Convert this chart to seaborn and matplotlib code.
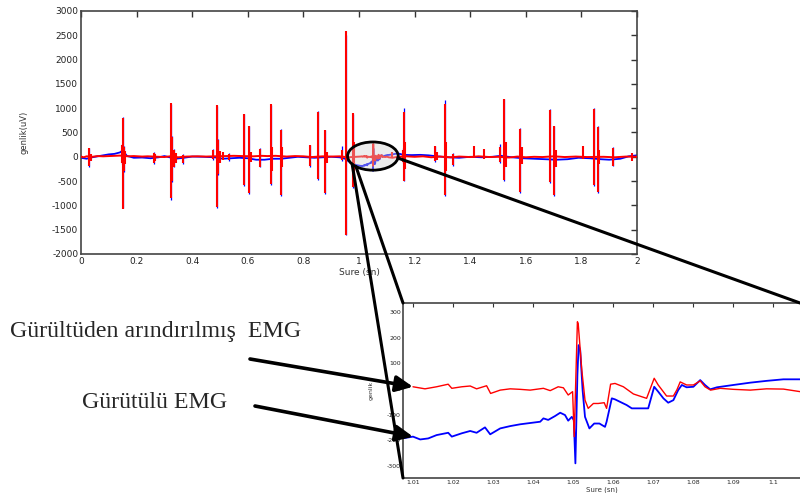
import matplotlib
matplotlib.use("Agg")
import matplotlib.pyplot as plt
from matplotlib.patches import Ellipse, ConnectionPatch
import numpy as np
import pandas as pd
import seaborn as sns

# ---------------- full record (0-2 s), amplitude in uV ----------------
# slow baseline between bursts
red_base_t = [0.000, 0.010, 0.020, 0.040, 0.060, 0.080, 0.100, 0.120, 0.140, 0.170,
              0.190, 0.220, 0.240, 0.280, 0.300, 0.320, 0.350, 0.380, 0.420, 0.450,
              0.480, 0.520, 0.550, 0.580, 0.620, 0.650, 0.670, 0.700, 0.740, 0.770,
              0.800, 0.830, 0.870, 0.900, 0.930, 0.960, 0.990, 1.005,
              1.120, 1.140, 1.170, 1.200, 1.230, 1.260, 1.290, 1.330, 1.360, 1.400,
              1.430, 1.470, 1.500, 1.540, 1.570, 1.600, 1.630, 1.660, 1.700, 1.740,
              1.780, 1.820, 1.880, 1.920, 1.960, 2.000]
red_base_v = [5, -10, 10, 0, 15, 10, 15, 20, 25, 10,
              15, 5, 10, 0, -5, 10, -10, 5, 10, 5,
              10, 15, 20, 15, 10, 20, 15, 20, 5, 15,
              10, -5, 10, 5, 10, -10, 0, 5,
              -20, 0, 10, 0, 10, -10, 5, -10, 5, -5,
              10, -5, 0, -15, 5, -10, 0, -5, 10, -5,
              5, -5, 0, -10, 5, 0]

blue_base_t = [0.000, 0.020, 0.040, 0.060, 0.080, 0.100, 0.120, 0.140, 0.150, 0.165,
               0.190, 0.220, 0.250, 0.280, 0.300, 0.340, 0.370, 0.400, 0.440, 0.480,
               0.510, 0.540, 0.570, 0.600, 0.630, 0.660, 0.690, 0.720, 0.750, 0.780,
               0.810, 0.840, 0.870, 0.900, 0.930, 0.950, 0.970, 0.990, 1.005,
               1.120, 1.140, 1.160, 1.190, 1.220, 1.250, 1.280, 1.320, 1.360, 1.400,
               1.440, 1.480, 1.510, 1.550, 1.590, 1.630, 1.670, 1.710, 1.750, 1.790,
               1.830, 1.870, 1.900, 1.940, 1.970, 2.000]
blue_base_v = [-20, -40, -10, 10, 30, 50, 60, 90, 130, 20,
               -20, -15, -30, -10, 15, -40, -20, 5, 0, -10,
               -40, -30, -20, -30, -60, -60, -40, -40, -20, 0,
               -10, -20, -10, 0, -10, -40, -120, -170, -185,
               50, 70, 40, 35, 40, 30, 10, -10, -20, 0,
               -10, 0, 20, -10, -30, -40, -50, -60, -50, -20,
               -30, -50, -60, -40, 10, 30]

# motor-unit bursts: time, positive peak, negative peak
red_spike_t = [0.030, 0.035, 0.148, 0.152, 0.156, 0.160, 0.262, 0.266, 0.322, 0.326,
               0.335, 0.342, 0.367, 0.474, 0.490, 0.494, 0.500, 0.512, 0.533, 0.588,
               0.605, 0.612, 0.644, 0.682, 0.688, 0.719, 0.724, 0.824, 0.851, 0.878,
               0.884, 0.940, 0.955, 0.977, 0.981, 1.117, 1.157, 1.161, 1.166, 1.273,
               1.280, 1.309, 1.313, 1.339, 1.415, 1.448, 1.507, 1.523, 1.528, 1.580,
               1.585, 1.687, 1.703, 1.709, 1.807, 1.845, 1.859, 1.864, 1.913, 1.982]
red_spike_hi = [175, 60, 250, 790, 200, 120, 80, 60, 1100, 400,
                150, 80, 40, 150, 1060, 350, 120, 100, 60, 890,
                630, 100, 170, 1080, 200, 560, 200, 240, 925, 550,
                100, 150, 2580, 900, 300, 100, 150, 925, 300, 220,
                100, 1095, 300, 60, 220, 160, 200, 1180, 300, 580,
                200, 970, 630, 150, 220, 990, 615, 150, 190, 80]
red_spike_lo = [-190, -80, -120, -1080, -300, -150, -130, -90, -855, -500,
                -200, -130, -130, -40, -1040, -350, -120, -60, -70, -580,
                -750, -100, -200, -550, -300, -790, -200, -190, -465, -740,
                -120, -70, -1610, -615, -400, -30, -100, -490, -250, -80,
                -60, -785, -300, -170, -30, -40, -100, -480, -200, -720,
                -150, -510, -785, -200, -40, -580, -720, -150, -180, -80]

blue_spike_t = [0.030, 0.148, 0.152, 0.156, 0.262, 0.322, 0.326, 0.335, 0.367, 0.474,
                0.490, 0.494, 0.533, 0.588, 0.605, 0.644, 0.682, 0.719, 0.824, 0.851,
                0.878, 0.940, 0.955, 0.977, 1.157, 1.161, 1.273, 1.309, 1.339, 1.507,
                1.523, 1.580, 1.687, 1.703, 1.845, 1.859, 1.913]
blue_spike_hi = [190, 270, 810, 230, 100, 1080, 420, 170, 50, 160,
                 1050, 370, 80, 880, 640, 190, 1070, 570, 250, 945,
                 560, 220, 2500, 890, 180, 1010, 230, 1165, 70, 260,
                 1190, 590, 980, 640, 1000, 630, 200]
blue_spike_lo = [-200, -140, -1050, -320, -140, -880, -520, -210, -150, -60,
                 -1060, -370, -90, -600, -770, -220, -570, -810, -210, -480,
                 -760, -90, -1600, -640, -120, -500, -100, -800, -190, -120,
                 -500, -740, -530, -800, -600, -740, -190]

# ---------------- detail window 1.0075-1.107 s ----------------
zoom_red_t = [1.0100, 1.0130, 1.0159, 1.0188, 1.0197, 1.0222, 1.0243, 1.0259, 1.0284, 1.0294,
              1.0318, 1.0343, 1.0368, 1.0393, 1.0426, 1.0443, 1.0463, 1.0476, 1.0488, 1.0499,
              1.0503, 1.0511, 1.0513, 1.0522, 1.0530, 1.0538, 1.0551, 1.0563, 1.0578, 1.0584,
              1.0594, 1.0605, 1.0626, 1.0651, 1.0684, 1.0703, 1.0713, 1.0734, 1.0751, 1.0760,
              1.0768, 1.0784, 1.0801, 1.0818, 1.0830, 1.0844, 1.0868, 1.0901, 1.0943, 1.0984,
              1.1026, 1.1068]
zoom_red_v = [9, 1, 9, 19, 3, 9, 12, 1, 13, -17,
              -4, 1, -1, -4, 3, -6, 9, 5, -23, -10,
              -185, 262, 255, 74, -43, -75, -56, -56, -53, -75,
              19, 22, 9, -19, -36, 42, 16, -27, -27, -2,
              28, 16, 16, 32, 9, -4, 3, -1, -4, 1,
              0, -10]

zoom_blue_t = [1.0073, 1.0100, 1.0118, 1.0138, 1.0159, 1.0188, 1.0197, 1.0222, 1.0243, 1.0259,
               1.0280, 1.0293, 1.0318, 1.0343, 1.0368, 1.0418, 1.0426, 1.0438, 1.0455, 1.0468,
               1.0480, 1.0488, 1.0497, 1.0502, 1.0506, 1.0511, 1.0514, 1.0518, 1.0524, 1.0530,
               1.0541, 1.0553, 1.0566, 1.0580, 1.0584, 1.0597, 1.0605, 1.0626, 1.0634, 1.0647,
               1.0676, 1.0688, 1.0703, 1.0713, 1.0726, 1.0738, 1.0751, 1.0763, 1.0772, 1.0784,
               1.0801, 1.0818, 1.0830, 1.0843, 1.0860, 1.0901, 1.0943, 1.0984, 1.1026, 1.1068]
zoom_blue_v = [-192, -185, -196, -192, -179, -170, -185, -172, -163, -170,
               -149, -176, -153, -144, -137, -127, -114, -120, -105, -92,
               -101, -123, -108, -121, -289, 54, 171, 152, -4, -108,
               -153, -134, -134, -147, -127, -36, -40, -56, -62, -75,
               -75, -75, 9, -10, -36, -53, -43, -4, 16, 7,
               9, 35, 16, -1, 7, 16, 25, 32, 38, 38]

NOISY = "Gürütülü EMG"
CLEAN = "Gürültüden arındırılmış  EMG"
RED = "#ff0000"
BLUE = "#0000ff"

sns.set_style("white")
plt.rcParams["font.family"] = ["DejaVu Sans"]
plt.rcParams["axes.unicode_minus"] = False

fig = plt.figure(figsize=(8, 4.93), dpi=100)

# ---------------- main axes ----------------
ax = fig.add_axes([81 / 800, 1 - 254 / 493, 556 / 800, 243 / 493])

full_blue = pd.DataFrame({"t": blue_base_t + zoom_blue_t, "v": blue_base_v + zoom_blue_v})
full_red = pd.DataFrame({"t": red_base_t + zoom_red_t, "v": red_base_v + zoom_red_v})

sns.lineplot(data=full_blue, x="t", y="v", color=BLUE, lw=1.3, estimator=None,
             sort=True, ax=ax, zorder=2)
ax.vlines(blue_spike_t, blue_spike_lo, blue_spike_hi, color=BLUE, lw=0.9, zorder=2.1)
sns.lineplot(data=full_red, x="t", y="v", color=RED, lw=1.4, estimator=None,
             sort=True, ax=ax, zorder=3)
ax.vlines(red_spike_t, red_spike_lo, red_spike_hi, color=RED, lw=1.5, zorder=3.1)

ax.set_xlim(0, 2)
ax.set_ylim(-2000, 3000)
ax.set_xticks(np.arange(0, 2.01, 0.2))
ax.set_xticklabels(["0", "0.2", "0.4", "0.6", "0.8", "1", "1.2", "1.4", "1.6", "1.8", "2"])
ax.set_yticks(np.arange(-2000, 3001, 500))
ax.set_yticklabels([str(v) for v in range(-2000, 3001, 500)])
ax.tick_params(direction="in", top=True, right=True, length=4, width=1,
               labelsize=6.5, pad=2, colors="#333333", labelcolor="#222222")
for s in ax.spines.values():
    s.set_visible(True)
    s.set_color("#444444")
    s.set_linewidth(1.2)
ax.set_xlabel("Sure (sn)", fontsize=6.5, color="#333333")
ax.xaxis.set_label_coords(0.5, -0.058)
ax.set_ylabel("genlik(uV)", fontsize=6, color="#333333")
ax.yaxis.set_label_coords(-0.095, 0.5)

# highlighted window on the full record
ell_cx, ell_cy, ell_w, ell_h = 1.05, 15, 0.182, 580
ax.add_patch(Ellipse((ell_cx, ell_cy), ell_w, ell_h, facecolor=(0.82, 0.82, 0.82, 0.4),
                     edgecolor="black", lw=2, zorder=5))

# ---------------- detail axes ----------------
axin = fig.add_axes([403 / 800, 1 - 478 / 493, 397 / 800, 175 / 493])
zb = pd.DataFrame({"t": zoom_blue_t, "v": zoom_blue_v})
zr = pd.DataFrame({"t": zoom_red_t, "v": zoom_red_v})
sns.lineplot(data=zb, x="t", y="v", color=BLUE, lw=1.3, estimator=None, sort=False, ax=axin)
sns.lineplot(data=zr, x="t", y="v", color=RED, lw=1.0, estimator=None, sort=False, ax=axin)
axin.set_xlim(1.0075, 1.10675)
axin.set_ylim(-346, 335)
axin.set_xticks(np.arange(1.01, 1.1001, 0.01))
axin.set_xticklabels(["1.01", "1.02", "1.03", "1.04", "1.05", "1.06", "1.07", "1.08", "1.09", "1.1"])
axin.set_yticks(np.arange(-300, 301, 100))
axin.set_yticklabels([str(v) for v in range(-300, 301, 100)])
axin.tick_params(direction="in", top=True, right=False, length=3, width=0.8,
                 labelsize=4.5, pad=1.5, colors="#333333", labelcolor="#222222")
for name, s in axin.spines.items():
    s.set_color("#444444")
    s.set_linewidth(1.2)
axin.spines["right"].set_visible(False)
axin.set_xlabel("Sure (sn)", fontsize=5, color="#333333")
axin.xaxis.set_label_coords(0.5, -0.05)
axin.set_ylabel("genlik", fontsize=4.5, color="#333333")
axin.yaxis.set_label_coords(-0.075, 0.5)

# connectors from the ellipse to the detail axes
def ell_point(deg):
    a = np.deg2rad(deg)
    return (ell_cx + ell_w / 2 * np.cos(a), ell_cy + ell_h / 2 * np.sin(a))

for deg, corner in [(215, (0, 0)), (228, (0, 1)), (-8, (1, 1))]:
    con = ConnectionPatch(xyA=ell_point(deg), coordsA=ax.transData,
                          xyB=corner, coordsB=axin.transAxes,
                          color="black", lw=2.2, zorder=10)
    fig.add_artist(con)

# series labels with arrows
serif = ["Liberation Serif", "DejaVu Serif"]
fig.text(10 / 800, 1 - 332 / 493, CLEAN, family=serif, fontsize=17.2, va="center", ha="left")
fig.text(82 / 800, 1 - 402 / 493, NOISY, family=serif, fontsize=17.2, va="center", ha="left")

arrow = dict(arrowstyle="-|>,head_length=0.85,head_width=0.4", lw=2.6, color="black",
             mutation_scale=12, shrinkA=0, shrinkB=0)
axin.annotate("", xy=(zoom_red_t[0], zoom_red_v[0]), xycoords="data",
              xytext=(250 / 800, 1 - 359 / 493), textcoords="figure fraction",
              arrowprops=arrow, annotation_clip=False)
axin.annotate("", xy=(zoom_blue_t[1], zoom_blue_v[1]), xycoords="data",
              xytext=(255 / 800, 1 - 406 / 493), textcoords="figure fraction",
              arrowprops=arrow, annotation_clip=False)

fig.savefig("out.png", dpi=100)
